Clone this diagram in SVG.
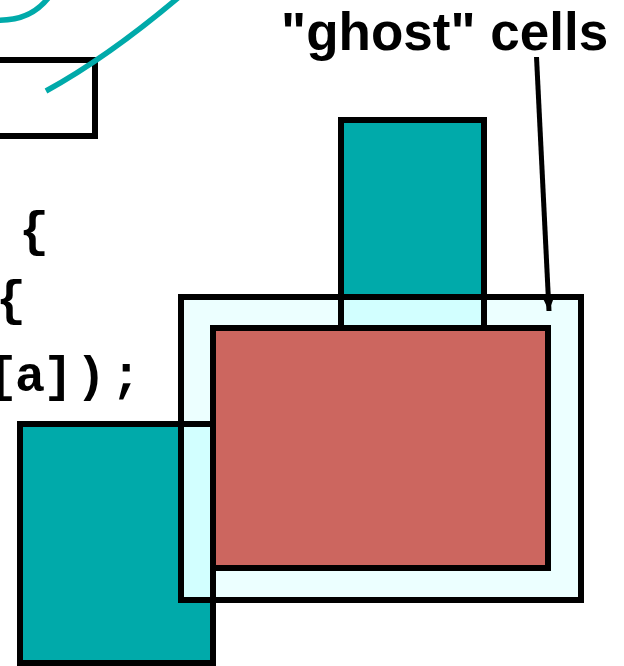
<svg xmlns="http://www.w3.org/2000/svg" width="624" height="666" viewBox="0 0 624 666">
<style>
.box{stroke:#000;stroke-width:6;}
.teal{fill:#00AAAA;}
.ghost{fill:#ECFFFF;}
.ov{fill:#D2FFFF;}
.red{fill:#CC665F;}
.curve{fill:none;stroke:#00AAAA;stroke-width:5.5;}
.code{font-family:"Liberation Mono","Courier New",monospace;font-weight:bold;font-size:50px;fill:#000;}
.lbl{font-family:"Liberation Sans",Arial,sans-serif;font-weight:bold;font-size:53px;fill:#000;}
</style>
<defs>
<marker id="ah" markerUnits="userSpaceOnUse" markerWidth="14" markerHeight="14" viewBox="0 0 14 14" refX="13" refY="7" orient="auto">
<path d="M0,1.5 L13,7 L0,12.5 Z" fill="#000"/>
</marker>
</defs>
<rect width="624" height="666" fill="#fff"/>
<g id="code-box">
<rect class="box" x="-10" y="60" width="105" height="76" fill="#fff"/>
</g>
<g id="curves">
<path class="curve" d="M -5 20 Q 30 22 49 -3"/>
<path class="curve" d="M 46 91 Q 108 57 179 -3"/>
</g>
<g id="code-text">
<text class="code" x="19" y="246">{</text>
<text class="code" x="-4" y="315">{</text>
<text class="code" x="-12 15 43 76 111" y="391">[a]);</text>
</g>
<g id="neighbor-top">
<rect class="box teal" x="341" y="120" width="143" height="208"/>
</g>
<g id="neighbor-left">
<rect class="box teal" x="20" y="424" width="193" height="239"/>
</g>
<g id="ghost-region">
<rect class="box ghost" x="181" y="297" width="400" height="303"/>
</g>
<g id="overlap-top">
<rect class="box ov" x="341" y="297" width="143" height="31"/>
</g>
<g id="overlap-left">
<rect class="box ov" x="181" y="424" width="32" height="176"/>
</g>
<g id="local-cells">
<rect class="box red" x="213" y="328" width="335" height="240"/>
</g>
<g id="label">
<text class="lbl" x="281" y="50">"ghost" cells</text>
</g>
<g id="connectors">
<line x1="536.5" y1="57" x2="549" y2="311" stroke="#000" stroke-width="5" marker-end="url(#ah)"/>
</g>
</svg>
